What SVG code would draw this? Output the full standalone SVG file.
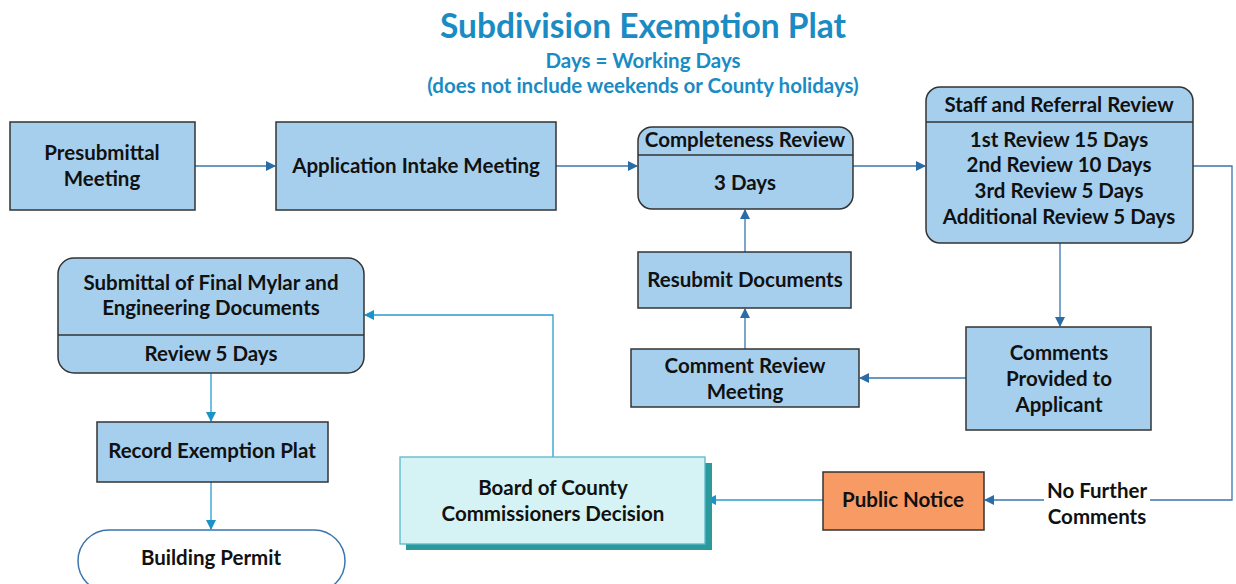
<svg xmlns="http://www.w3.org/2000/svg" width="1236" height="584" viewBox="0 0 1236 584">
<defs>
<style>
.t{font-family:Lato,"Liberation Sans",sans-serif;font-weight:bold;fill:#111;text-anchor:middle;font-size:20.5px}
.h{font-family:Lato,"Liberation Sans",sans-serif;font-weight:bold;fill:#1a8bc3;text-anchor:middle}
.box{fill:#a6cfee;stroke:#333;stroke-width:1.5}
.c1{fill:none;stroke:#3a76ad;stroke-width:1.3}
.c2{fill:none;stroke:#2a9bd0;stroke-width:1.3}
</style>
<marker id="a1" viewBox="0 0 10 10" refX="9" refY="5" markerWidth="10" markerHeight="10" markerUnits="userSpaceOnUse" orient="auto"><path d="M0,0L10,5L0,10z" fill="#2b6ca6"/></marker>
<marker id="a2" viewBox="0 0 10 10" refX="9" refY="5" markerWidth="10" markerHeight="10" markerUnits="userSpaceOnUse" orient="auto"><path d="M0,0L10,5L0,10z" fill="#1a93c9"/></marker>
</defs>
<rect width="1236" height="584" fill="#fff"/>
<g id="title">
<text class="h" x="643" y="38" font-size="33.5">Subdivision Exemption Plat</text>
<text class="h" x="643" y="68" font-size="20.5">Days = Working Days</text>
<text class="h" x="643" y="93" font-size="20.5">(does not include weekends or County holidays)</text>
</g>
<g id="connectors">
<path class="c1" d="M195,166H275" marker-end="url(#a1)"/>
<path class="c1" d="M556,166H637" marker-end="url(#a1)"/>
<path class="c1" d="M853,166H925" marker-end="url(#a1)"/>
<path class="c1" d="M1193,166H1232V500H1150"/>
<path class="c1" d="M1044,500H985" marker-end="url(#a1)"/>
<path class="c1" d="M1060,243V326" marker-end="url(#a1)"/>
<path class="c1" d="M966,378H860" marker-end="url(#a1)"/>
<path class="c1" d="M745,349V309" marker-end="url(#a1)"/>
<path class="c1" d="M745,252V210" marker-end="url(#a1)"/>
<path class="c2" d="M823,500H707" marker-end="url(#a2)"/>
<path class="c2" d="M553,457V315H365" marker-end="url(#a2)"/>
<path class="c2" d="M211,373V421" marker-end="url(#a2)"/>
<path class="c2" d="M211,482V529" marker-end="url(#a2)"/>
</g>
<g id="presubmittal">
<rect class="box" x="10" y="122" width="185" height="88"/>
<text class="t" x="102" y="160">Presubmittal</text>
<text class="t" x="102" y="186">Meeting</text>
</g>
<g id="intake">
<rect class="box" x="276" y="122" width="280" height="88"/>
<text class="t" x="416" y="173">Application Intake Meeting</text>
</g>
<g id="completeness">
<rect class="box" x="638" y="127" width="215" height="82" rx="14"/>
<path d="M638,155H853" stroke="#333" stroke-width="1.5"/>
<text class="t" x="745" y="147">Completeness Review</text>
<text class="t" x="745" y="190">3 Days</text>
</g>
<g id="staff">
<rect class="box" x="926" y="87" width="267" height="156" rx="14"/>
<path d="M926,122H1193" stroke="#333" stroke-width="1.5"/>
<text class="t" x="1059" y="112">Staff and Referral Review</text>
<text class="t" x="1059" y="147">1st Review 15 Days</text>
<text class="t" x="1059" y="172">2nd Review 10 Days</text>
<text class="t" x="1059" y="198">3rd Review 5 Days</text>
<text class="t" x="1059" y="224">Additional Review 5 Days</text>
</g>
<g id="resubmit">
<rect class="box" x="638" y="252" width="213" height="56"/>
<text class="t" x="745" y="287">Resubmit Documents</text>
</g>
<g id="commentreview">
<rect class="box" x="631" y="349" width="228" height="58"/>
<text class="t" x="745" y="373">Comment Review</text>
<text class="t" x="745" y="399">Meeting</text>
</g>
<g id="commentsprovided">
<rect class="box" x="966" y="327" width="185" height="103"/>
<text class="t" x="1059" y="360">Comments</text>
<text class="t" x="1059" y="386">Provided to</text>
<text class="t" x="1059" y="412">Applicant</text>
</g>
<g id="nofurther">
<text class="t" x="1097" y="498">No Further</text>
<text class="t" x="1097" y="524">Comments</text>
</g>
<g id="publicnotice">
<rect x="823" y="472" width="161" height="58" fill="#f89a64" stroke="#333" stroke-width="1.5"/>
<text class="t" x="903" y="507">Public Notice</text>
</g>
<g id="board">
<rect x="406" y="463" width="306" height="87" fill="#2a9a9c"/>
<rect x="400" y="457" width="305" height="87" fill="#d5f3f5" stroke="#5ab8c8" stroke-width="1.3"/>
<text class="t" x="553" y="495">Board of County</text>
<text class="t" x="553" y="521">Commissioners Decision</text>
</g>
<g id="submittal">
<rect class="box" x="58" y="258" width="306" height="115" rx="16"/>
<path d="M58,335H364" stroke="#333" stroke-width="1.5"/>
<text class="t" x="211" y="290">Submittal of Final Mylar and</text>
<text class="t" x="211" y="315">Engineering Documents</text>
<text class="t" x="211" y="361">Review 5 Days</text>
</g>
<g id="record">
<rect class="box" x="97" y="422" width="231" height="60"/>
<text class="t" x="212" y="458">Record Exemption Plat</text>
</g>
<g id="permit">
<rect x="78" y="530" width="267" height="62" rx="31" fill="#fff" stroke="#3a76ad" stroke-width="1.5"/>
<text class="t" x="211" y="565">Building Permit</text>
</g>
</svg>
